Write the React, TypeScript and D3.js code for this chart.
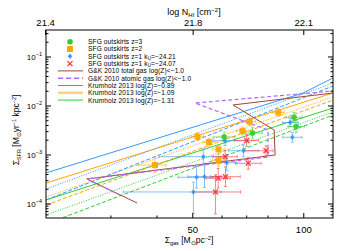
import * as d3 from 'd3'

// points: [Σgas, ΣSFR, xErrLo, xErrHi, yErrLo, yErrHi] (errors in dex)
type Pt = [number, number, number, number, number, number]

const Z3_PTS: Pt[] = [
  [60.8, 2.33e-3, 0.03, 0.03, 0.1, 0.1],
  [72.6, 2.81e-3, 0.027, 0.027, 0.12, 0.12],
  [94.1, 5.88e-3, 0.022, 0.022, 0.1, 0.1],
  [95.3, 3.82e-3, 0.022, 0.022, 0.12, 0.12],
]
const Z2_PTS: Pt[] = [
  [39.5, 6.25e-4, 0.046, 0.03, 0.15, 0.15],
  [51.5, 2.36e-3, 0.016, 0.016, 0.08, 0.08],
  [55.3, 1.84e-3, 0.016, 0.016, 0.08, 0.08],
  [58.7, 1.31e-3, 0.016, 0.016, 0.08, 0.08],
  [58.7, 7.8e-4, 0.016, 0.016, 0.12, 0.12],
  [68.2, 3.09e-3, 0.016, 0.016, 0.08, 0.08],
  [71.3, 4.78e-3, 0.016, 0.016, 0.08, 0.08],
  [85.3, 7.37e-3, 0.016, 0.016, 0.08, 0.08],
]
const Z1A_PTS: Pt[] = [
  [50.2, 1.76e-4, 0.19, 0.075, 0.43, 0.2],
  [51.2, 3.51e-4, 0.05, 0.045, 0.22, 0.22],
  [53.8, 3.61e-4, 0.045, 0.046, 0.22, 0.22],
  [53.4, 9.23e-4, 0.12, 0.046, 0.16, 0.16],
  [61.2, 1.96e-3, 0.033, 0.062, 0.1, 0.1],
  [61.8, 6.97e-4, 0.027, 0.027, 0.16, 0.16],
  [68.6, 1.22e-3, 0.04, 0.04, 0.12, 0.12],
  [91.8, 4.61e-3, 0.02, 0.022, 0.08, 0.08],
  [93.1, 2.3e-3, 0.026, 0.026, 0.1, 0.1],
]
const Z1B_PTS: Pt[] = [
  [57.6, 1.76e-4, 0.06, 0.068, 0.45, 0.35],
  [58.6, 3.35e-4, 0.033, 0.033, 0.2, 0.2],
  [61.3, 3.61e-4, 0.04, 0.04, 0.2, 0.2],
  [61.2, 9.23e-4, 0.033, 0.033, 0.12, 0.12],
  [70.0, 1.98e-3, 0.033, 0.033, 0.12, 0.12],
  [70.7, 6.77e-4, 0.035, 0.035, 0.12, 0.12],
  [79.0, 1.22e-3, 0.057, 0.019, 0.1, 0.1],
]

// model curves [Σgas, ΣSFR]
const GK_TOTAL: [number, number][] = [[35.3, 1.05e-4], [25.8, 3.24e-4], [83.6, 1.0e-3], [83.1, 3.24e-3], [64.3, 1.05e-2], [120, 1.84e-2]]
const GK_ATOMIC: [number, number][] = [[31.7, 1.53e-4], [25.8, 3.24e-4], [80.0, 9.1e-4], [80.0, 3.24e-3], [50.7, 1.15e-2], [120, 2.02e-2]]

const K089_SOLID: [number, number][] = [[20, 4.3e-4], [99.5, 1.84e-2], [120, 3.73e-2]]
const K089_DOT: [number, number][] = [[20, 2.02e-4], [120, 2.95e-2]]
const K089_DASH: [number, number][] = [[20, 1.21e-4], [120, 2.56e-2]]
const K109_SOLID: [number, number][] = [[20, 2.68e-4], [120, 1.84e-2]]
const K109_DOT: [number, number][] = [[20, 1.39e-4], [120, 1.53e-2]]
const K109_DASH: [number, number][] = [[20, 9.55e-5], [120, 1.32e-2]]
const K131_SOLID: [number, number][] = [[20, 1.21e-4], [120, 9.1e-3]]
const K131_DOT: [number, number][] = [[20, 5.97e-5], [120, 7.55e-3]]
const K131_DASH: [number, number][] = [[20, 3.9e-5], [120, 6.55e-3]]

const X_DOMAIN = [20, 120]
const Y_DOMAIN = [5.18e-5, 0.3556]
const NHI_OFFSET = 20.1
const NHI_TICKS = [21.4, 21.8, 22.1]
const X_MAJOR = [50, 100]
const X_MINOR = [30, 40, 60, 70, 80, 90]
const Y_EXP = [-4, -3, -2, -1]

const GREEN = '#33cc33'
const ORANGE = '#ffa500'
const BLUE = '#3399ff'
const RED = '#ff3030'
const BROWN = '#a0453a'
const PURPLE = '#b366ff'
const FONT = 'Liberation Sans, Arial, sans-serif'

const LEGEND = [
  { kind: 'circle', color: GREEN, text: 'SFG outskirts z=3' },
  { kind: 'square', color: ORANGE, text: 'SFG outskirts z=2' },
  { kind: 'diamond', color: BLUE, text: 'SFG outskirts z=1 k', sub: 'U', tail: '=\u221224.21' },
  { kind: 'cross', color: RED, text: 'SFG outskirts z=1 k', sub: 'U', tail: '=\u221224.07' },
  { kind: 'line', color: BROWN, text: 'G&K 2010 total gas log(Z)<\u22121.0' },
  { kind: 'dash', color: PURPLE, text: 'G&K 2010 atomic gas log(Z)<\u22121.0' },
  { kind: 'line', color: BLUE, text: 'Krumholz 2013 log(Z)=\u22120.89' },
  { kind: 'thick', color: ORANGE, text: 'Krumholz 2013 log(Z)=\u22121.09' },
  { kind: 'line', color: GREEN, text: 'Krumholz 2013 log(Z)=\u22121.31' },
]

const L = 46, R = 333, T = 30, B = 218

export default function App() {
  const x = d3.scaleLog().domain(X_DOMAIN).range([L, R])
  const y = d3.scaleLog().domain(Y_DOMAIN).range([B, T])
  const top = d3.scaleLinear()
    .domain([Math.log10(X_DOMAIN[0]) + NHI_OFFSET, Math.log10(X_DOMAIN[1]) + NHI_OFFSET])
    .range([L, R])
  const line = d3.line<[number, number]>().x(d => x(d[0])).y(d => y(d[1]))

  const yMinor: number[] = []
  for (let e = -5; e <= 0; e++) for (let k = 2; k <= 9; k++) {
    const v = k * Math.pow(10, e)
    if (v > Y_DOMAIN[0] && v < Y_DOMAIN[1]) yMinor.push(v)
  }

  const models = [
    { d: K131_DASH, c: GREEN, dash: '4,2' },
    { d: K131_DOT, c: GREEN, dash: '1,1.5' },
    { d: K131_SOLID, c: GREEN, dash: null },
    { d: K109_DASH, c: ORANGE, dash: '4,2' },
    { d: K109_DOT, c: ORANGE, dash: '1,1.5' },
    { d: K109_SOLID, c: ORANGE, dash: null },
    { d: K089_DASH, c: BLUE, dash: '4,2' },
    { d: K089_DOT, c: BLUE, dash: '1,1.5' },
    { d: K089_SOLID, c: BLUE, dash: null },
  ]

  const errBars = (pts: Pt[], color: string) => pts.map((p, i) => {
    const cx = x(p[0]), cy = y(p[1])
    const x0 = x(p[0] / Math.pow(10, p[2])), x1 = x(p[0] * Math.pow(10, p[3]))
    const y0 = y(p[1] / Math.pow(10, p[4])), y1 = y(p[1] * Math.pow(10, p[5]))
    return (
      <g key={i} stroke={color} strokeWidth={1} opacity={0.6}>
        <line x1={x0} x2={x1} y1={cy} y2={cy} />
        <line x1={x0} x2={x0} y1={cy - 1.5} y2={cy + 1.5} />
        <line x1={x1} x2={x1} y1={cy - 1.5} y2={cy + 1.5} />
        <line x1={cx} x2={cx} y1={y0} y2={y1} />
        <line x1={cx - 1.5} x2={cx + 1.5} y1={y0} y2={y0} />
        <line x1={cx - 1.5} x2={cx + 1.5} y1={y1} y2={y1} />
      </g>
    )
  })

  const marker = (kind: string, color: string, cx: number, cy: number, key?: number) => {
    if (kind === 'circle') return <circle key={key} cx={cx} cy={cy} r={2.8} fill={color} />
    if (kind === 'square') return <rect key={key} x={cx - 3} y={cy - 3} width={6} height={6} fill={color} />
    if (kind === 'diamond') return <path key={key} d={`M${cx},${cy - 2.8}L${cx + 2.2},${cy}L${cx},${cy + 2.8}L${cx - 2.2},${cy}Z`} fill={color} />
    return (
      <g key={key} stroke={color} strokeWidth={1.3}>
        <line x1={cx - 2.5} x2={cx + 2.5} y1={cy - 2.5} y2={cy + 2.5} />
        <line x1={cx - 2.5} x2={cx + 2.5} y1={cy + 2.5} y2={cy - 2.5} />
      </g>
    )
  }

  const groups: [Pt[], string, string][] = [
    [Z2_PTS, 'square', ORANGE],
    [Z1A_PTS, 'diamond', BLUE],
    [Z1B_PTS, 'cross', RED],
    [Z3_PTS, 'circle', GREEN],
  ]

  return (
    <svg width={351} height={251} style={{ position: 'absolute', left: 0, top: 0, background: '#fff' }} fontFamily={FONT}>
      <defs>
        <clipPath id="plot"><rect x={L} y={T} width={R - L} height={B - T} /></clipPath>
      </defs>

      <g clipPath="url(#plot)" fill="none">
        {models.map((m, i) => (
          <path key={i} d={line(m.d)!} stroke={m.c} strokeWidth={1} strokeDasharray={m.dash ?? undefined} />
        ))}
        <path d={line(GK_TOTAL)!} stroke={BROWN} strokeWidth={1} />
        <path d={line(GK_ATOMIC)!} stroke={PURPLE} strokeWidth={1.2} strokeDasharray="4,2.5" />
        {groups.map(([pts, , c], i) => <g key={i}>{errBars(pts, c)}</g>)}
        {groups.map(([pts, k, c], i) => (
          <g key={i} opacity={0.9}>{pts.map((p, j) => marker(k, c, x(p[0]), y(p[1]), j))}</g>
        ))}
      </g>

      {/* frame */}
      <rect x={L} y={T} width={R - L} height={B - T} fill="none" stroke="#000" strokeWidth={1} />

      {/* bottom ticks */}
      {X_MAJOR.map(v => (
        <g key={v}>
          <line x1={x(v)} x2={x(v)} y1={B} y2={B - 5} stroke="#000" />
          <text x={x(v)} y={233} fontSize={9.5} textAnchor="middle">{v}</text>
        </g>
      ))}
      {X_MINOR.map(v => <line key={v} x1={x(v)} x2={x(v)} y1={B} y2={B - 2.5} stroke="#000" />)}

      {/* top ticks */}
      {NHI_TICKS.map(v => (
        <g key={v}>
          <line x1={top(v)} x2={top(v)} y1={T} y2={T + 5} stroke="#000" />
          <text x={top(v)} y={26} fontSize={9.5} textAnchor="middle">{v.toFixed(1)}</text>
        </g>
      ))}

      {/* y ticks */}
      {Y_EXP.map(e => {
        const yy = y(Math.pow(10, e))
        return (
          <g key={e}>
            <line x1={L} x2={L + 5} y1={yy} y2={yy} stroke="#000" />
            <line x1={R} x2={R - 5} y1={yy} y2={yy} stroke="#000" />
            <text x={42} y={yy + 3} fontSize={8} textAnchor="end">
              10<tspan fontSize={5.5} dy={-4}>{'\u2212' + (-e)}</tspan>
            </text>
          </g>
        )
      })}
      {yMinor.map((v, i) => (
        <g key={i} stroke="#000">
          <line x1={L} x2={L + 2.5} y1={y(v)} y2={y(v)} />
          <line x1={R} x2={R - 2.5} y1={y(v)} y2={y(v)} />
        </g>
      ))}

      {/* axis titles */}
      <text x={189} y={243} fontSize={8.5} textAnchor="middle">
        {'\u03a3'}<tspan fontSize={5.5} dy={2}>gas</tspan><tspan dy={-2}> [M</tspan><tspan fontSize={5.5} dy={2}>{'\u2299'}</tspan><tspan dy={-2}>pc</tspan><tspan fontSize={5.5} dy={-3.5}>{'\u22122'}</tspan><tspan dy={3.5}>]</tspan>
      </text>
      <text x={194} y={15} fontSize={9} textAnchor="middle">
        log N<tspan fontSize={6} dy={2}>HI</tspan><tspan dy={-2}> [cm</tspan><tspan fontSize={6} dy={-3.5}>{'\u22122'}</tspan><tspan dy={3.5}>]</tspan>
      </text>
      <text transform="translate(19,130) rotate(-90)" fontSize={8.5} textAnchor="middle">
        {'\u03a3'}<tspan fontSize={5.5} dy={2}>SFR</tspan><tspan dy={-2}> [M</tspan><tspan fontSize={5.5} dy={2}>{'\u2299'}</tspan><tspan dy={-2}>yr</tspan><tspan fontSize={5.5} dy={-3.5}>{'\u22121'}</tspan><tspan dy={3.5}> kpc</tspan><tspan fontSize={5.5} dy={-3.5}>{'\u22122'}</tspan><tspan dy={3.5}>]</tspan>
      </text>

      {/* legend */}
      {LEGEND.map((d, i) => {
        const ly = 41.7 + i * 7.3
        let glyph
        if (d.kind === 'line') glyph = <line x1={58} x2={83} y1={ly} y2={ly} stroke={d.color} strokeWidth={1} />
        else if (d.kind === 'thick') glyph = <line x1={58} x2={83} y1={ly} y2={ly} stroke={d.color} strokeWidth={2.5} opacity={0.5} />
        else if (d.kind === 'dash') glyph = <line x1={58} x2={83} y1={ly} y2={ly} stroke={d.color} strokeWidth={1.5} strokeDasharray="5,3" />
        else glyph = marker(d.kind, d.color, 70, ly)
        return (
          <g key={i}>
            {glyph}
            <text x={88} y={ly + 2.4} fontSize={6.6} letterSpacing={0.1}>
              {d.text}
              {d.sub && <tspan fontSize={4.5} dy={1.3}>{d.sub}</tspan>}
              {d.tail && <tspan dy={-1.3}>{d.tail}</tspan>}
            </text>
          </g>
        )
      })}
    </svg>
  )
}
